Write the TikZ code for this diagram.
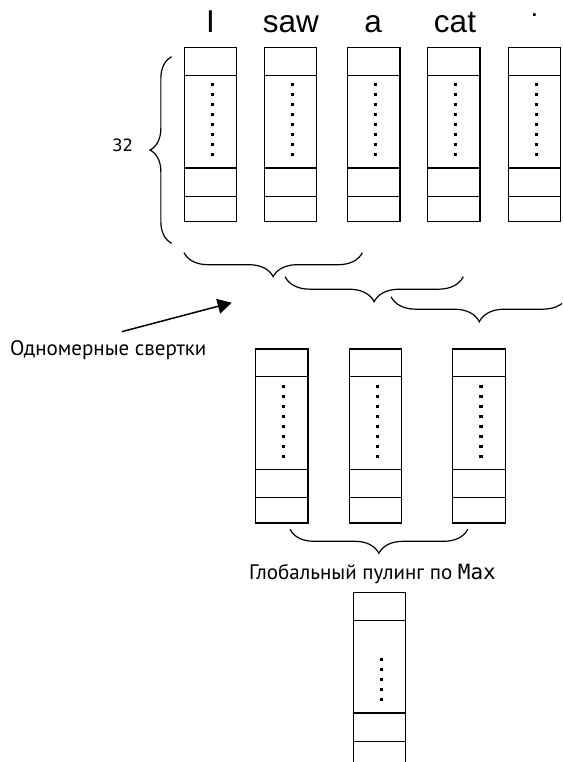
\documentclass[tikz,border=0pt]{standalone}
\usepackage{fontspec}
\setmainfont{PT Sans}
\newfontfamily\wordfont{Liberation Sans}
\newfontfamily\codefont{DejaVu Sans Mono}
\newfontfamily\dotfont{DejaVu Sans}
\usetikzlibrary{decorations.pathreplacing, arrows.meta}

\tikzset{
  vecbox/.style={draw, line width=1.2pt, inner sep=0pt,
    minimum width=52.4pt, minimum height=174pt},
  rowline/.style={line width=1.2pt},
  word/.style={inner sep=0pt, anchor=base, font=\wordfont\fontsize{31.5}{36}\selectfont},
  caption/.style={inner sep=0pt, font=\fontsize{21}{25}\selectfont},
  curly/.style={decorate, line width=1.2pt,
    decoration={brace, amplitude=#1}},
  curly/.default=24pt,
}

% one embedding vector: name, centre x, top y, number of dots
\newcommand\embvec[4]{%
  \node[vecbox, anchor=north] (#1) at (#2,#3) {};
  \draw[rowline] ([yshift=-28.5pt]#1.north west) -- ([yshift=-28.5pt]#1.north east);
  \draw[rowline] ([yshift=-121.3pt]#1.north west) -- ([yshift=-121.3pt]#1.north east);
  \draw[rowline] ([yshift=-149.5pt]#1.north west) -- ([yshift=-149.5pt]#1.north east);
  \foreach \k in {1,...,#4} {
    \pgfmathsetmacro\dy{10*\k-118}
    \fill ([xshift=2pt, yshift=\dy pt]#1.north) +(-1.7pt,-1.7pt) rectangle +(1.7pt,1.7pt);
  }
}

\begin{document}
\begin{tikzpicture}[x=1pt, y=-1pt]
  \useasboundingbox (0,0) rectangle (562,762);
  \clip (0,0) rectangle (562,762);

  % input tokens
  \node[word] (wI)   at (210.5,32.7) {I};
  \node[word] (wsaw) at (290.8,32.7) {saw};
  \node[word] (wa)   at (373.2,32.7) {a};
  \node[word] (wcat) at (455,32.7) {cat};
  \node[inner sep=0pt, anchor=base, font=\dotfont\bfseries\fontsize{15}{18}\selectfont]
    (wdot) at (534.5,16.6) {.};

  % word embeddings
  \embvec{e1}{210.5}{46.7}{8}
  \embvec{e2}{290.5}{46.7}{8}
  \embvec{e3}{373.7}{46.7}{8}
  \embvec{e4}{453.7}{46.7}{8}
  \embvec{e5}{534.5}{46.7}{8}

  % embedding size
  \draw[curly=21.7pt] (171.7,243.3) -- (171.7,56.7);
  \node[inner sep=0pt, font=\codefont\fontsize{17}{20}\selectfont] (dim) at (122.5,145) {32};

  % convolution windows
  \draw[curly=24pt, decoration={mirror}] (184,252.7) -- (362.3,252.7);
  \draw[curly=25pt, decoration={mirror}] (285,276.7) -- (463.3,276.7);
  \draw[curly=25pt, decoration={mirror}] (391,296.7) -- (567.6,296.7);

  \node[caption, anchor=base west] (conv) at (10,355) {Одномерные свертки};
  \coordinate (convfrom) at (121.7,331.7);
  \coordinate (convto) at (231.7,302.7);
  \draw[line width=1.5pt, -{Triangle[length=14pt, width=15pt]}] (convfrom) -- (convto);

  % feature maps
  \embvec{f1}{281.7}{348.3}{8}
  \embvec{f2}{375.5}{348.3}{8}
  \embvec{f3}{478.9}{348.3}{8}

  \draw[curly=24pt, decoration={mirror}] (290,529.3) -- (467.7,529.3);
  \node[caption, anchor=base] (pool) at (372.5,579) {Глобальный пулинг по {\codefont Max}};

  % pooled vector
  \embvec{p1}{379.5}{591.7}{5}
\end{tikzpicture}
\end{document}
